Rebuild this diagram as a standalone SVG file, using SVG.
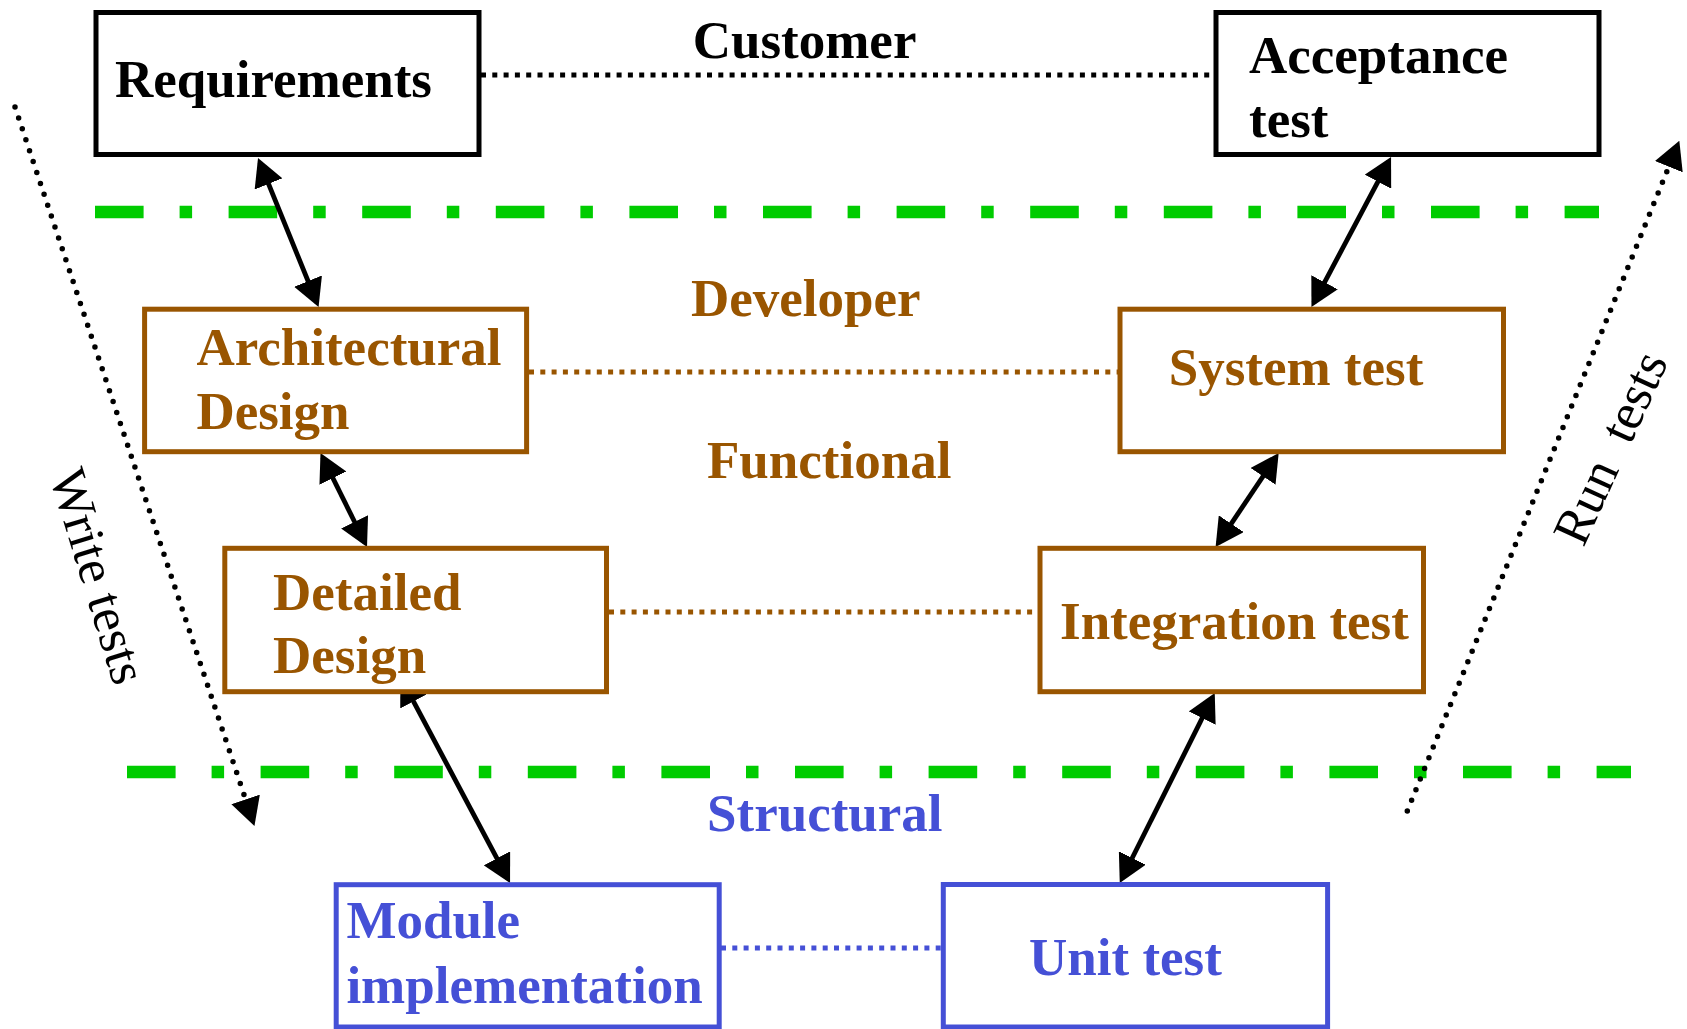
<svg xmlns="http://www.w3.org/2000/svg" width="1687" height="1029" viewBox="0 0 1687 1029">
<style>
.box{fill:#fff;stroke-width:5}
.k{stroke:#000}
.br{stroke:#995500}
.bl{stroke:#4550D6}
.t{font-family:"Liberation Serif","Times New Roman",serif;font-weight:bold;font-size:53px}
.tk{fill:#000}
.tbr{fill:#995500}
.tbl{fill:#4550D6}
.rot{font-family:"Liberation Serif","Times New Roman",serif;font-size:52px;fill:#000}
.sep{stroke:#00CC00;stroke-width:12.3;stroke-dasharray:48.6 36 12.5 36.5;fill:none}
.dot{fill:none;stroke-width:5;stroke-dasharray:5 6.3}
.arr{stroke:#000;stroke-width:4.8;fill:none}
.run{stroke:#000;stroke-width:5.5;stroke-linecap:round;stroke-dasharray:0 11.5;fill:none}
</style>
<defs>
<marker id="ah" markerUnits="userSpaceOnUse" viewBox="0 0 28 30" markerWidth="28" markerHeight="30" refX="23" refY="15" orient="auto-start-reverse"><path d="M0,0 L28,15 L0,30 z" fill="#000"/></marker>
<marker id="ahd" markerUnits="userSpaceOnUse" viewBox="0 0 28 30" markerWidth="28" markerHeight="30" refX="0" refY="15" orient="auto"><path d="M0,0 L28,15 L0,30 z" fill="#000"/></marker>
</defs>
<rect width="1687" height="1029" fill="#fff"/>
<g id="separators">
<line class="sep" x1="95" y1="212" x2="1599" y2="212"/>
<line class="sep" x1="127" y1="772" x2="1631" y2="772"/>
</g>
<g id="connectors">
<line class="dot k" x1="481" y1="75" x2="1214" y2="75"/>
<line class="dot br" x1="529" y1="372" x2="1118" y2="372"/>
<line class="dot br" x1="609" y1="612" x2="1038" y2="612"/>
<line class="dot bl" x1="721" y1="948" x2="942" y2="948"/>
<line class="arr" x1="259.9" y1="162.6" x2="316.7" y2="302.4" marker-start="url(#ah)" marker-end="url(#ah)"/>
<line class="arr" x1="1388.7" y1="161.4" x2="1313.8" y2="302.6" marker-start="url(#ah)" marker-end="url(#ah)"/>
<line class="arr" x1="322.7" y1="457.5" x2="364.8" y2="542.5" marker-start="url(#ah)" marker-end="url(#ah)"/>
<line class="arr" x1="1275.9" y1="457.2" x2="1218.4" y2="542.8" marker-start="url(#ah)" marker-end="url(#ah)"/>
<line class="arr" x1="402.7" y1="681.1" x2="507.7" y2="878.6" marker-start="url(#ah)" marker-end="url(#ah)"/>
<line class="arr" x1="1212.5" y1="697.5" x2="1122.0" y2="878.5" marker-start="url(#ah)" marker-end="url(#ah)"/>
<line class="run" x1="15" y1="107" x2="245.6" y2="799.4" marker-end="url(#ahd)"/>
<line class="run" x1="1407.3" y1="811" x2="1668.8" y2="166.7" marker-end="url(#ahd)"/>
</g>
<g id="requirements">
<rect class="box k" x="96" y="12.5" width="383" height="142"/>
<text class="t tk" x="115" y="96.7">Requirements</text>
</g>
<g id="acceptance-test">
<rect class="box k" x="1216" y="12.5" width="383" height="142"/>
<text class="t tk" x="1249" y="73">Acceptance</text>
<text class="t tk" x="1249" y="137">test</text>
</g>
<g id="architectural-design">
<rect class="box br" x="144.6" y="309.2" width="382" height="142.5"/>
<text class="t tbr" x="196.4" y="365">Architectural</text>
<text class="t tbr" x="196.4" y="429">Design</text>
</g>
<g id="system-test">
<rect class="box br" x="1120" y="309.2" width="383.5" height="142.5"/>
<text class="t tbr" x="1168.7" y="385">System test</text>
</g>
<g id="detailed-design">
<rect class="box br" x="224.8" y="548.3" width="381.7" height="143.4"/>
<text class="t tbr" x="273" y="610">Detailed</text>
<text class="t tbr" x="273" y="673">Design</text>
</g>
<g id="integration-test">
<rect class="box br" x="1040" y="548.3" width="383.5" height="143.4"/>
<text class="t tbr" x="1060" y="639">Integration test</text>
</g>
<g id="module-implementation">
<rect class="box bl" x="336.2" y="884.7" width="383" height="142.3"/>
<text class="t tbl" x="346.4" y="938">Module</text>
<text class="t tbl" x="346.4" y="1002.7">implementation</text>
</g>
<g id="unit-test">
<rect class="box bl" x="943.3" y="884.5" width="384.3" height="142.5"/>
<text class="t tbl" x="1029" y="975">Unit test</text>
</g>
<g id="labels">
<text class="t tk" x="692.7" y="57.7">Customer</text>
<text class="t tbr" x="691" y="316">Developer</text>
<text class="t tbr" x="707" y="478">Functional</text>
<text class="t tbl" x="707" y="830.7">Structural</text>
<text class="rot" text-anchor="middle" transform="translate(81.7,581.4) rotate(73)">Write tests</text>
<text class="rot" text-anchor="middle" word-spacing="13" transform="translate(1626,455) rotate(-65.5)">Run tests</text>
</g>
</svg>
